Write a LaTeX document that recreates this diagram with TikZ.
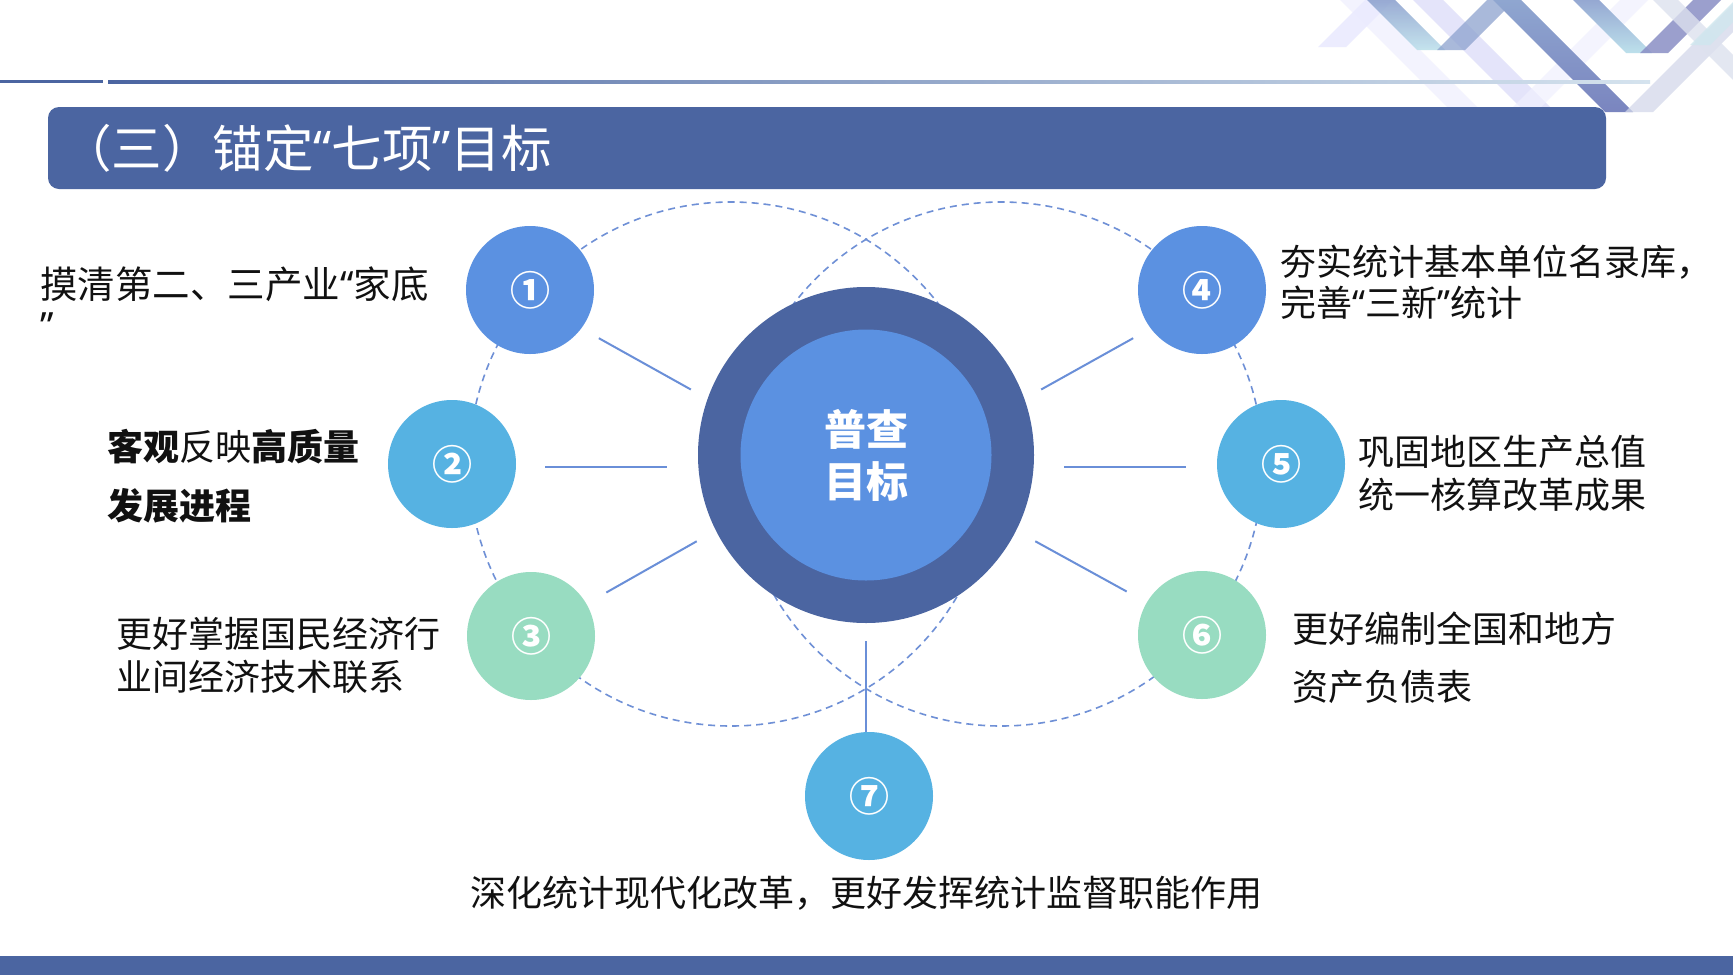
\documentclass[tikz,border=0pt]{standalone}
\usepackage{fontspec}
\setmainfont{Noto Sans CJK SC}
\newfontfamily\qf{Noto Sans}
\usetikzlibrary{calc}
\definecolor{dkblue}{HTML}{4B65A1}
\definecolor{midblue}{HTML}{5B91E1}
\definecolor{skyblue}{HTML}{56B2E2}
\definecolor{mint}{HTML}{98DCC1}
\definecolor{dashc}{HTML}{6F90D6}
\definecolor{connc}{HTML}{6A8FD8}
\definecolor{lineend}{HTML}{D5E3EE}
\definecolor{txt}{HTML}{111111}
\newcommand\bandBack[5]{\path[#5] (#1,#2) -- ({#1+#4},#2) -- ({#1+#4+#3-#2},#3) -- ({#1+#3-#2},#3) -- cycle;}
\newcommand\bandFwd[5]{\path[#5] (#1,#3) -- ({#1+#4},#3) -- ({#1+#4+#3-#2},#2) -- ({#1+#3-#2},#2) -- cycle;}
\newcommand\myLq{{\qf “}}
\newcommand\myRq{{\qf ”}}
\begin{document}
\begin{tikzpicture}[x=1pt,y=-1pt,
  sat/.style={circle, minimum size=128, inner sep=0, text=white, font=\bfseries\fontsize{40}{40}\selectfont},
  conn/.style={connc, line width=2},
  dashring/.style={circle, draw=dashc, line width=1.6, dash pattern=on 7 off 5, minimum size=524, inner sep=0},
  body/.style={anchor=base west, align=left, inner sep=0, text=txt},
]
\useasboundingbox (0,0) rectangle (1733,975);
\fill[white] (0,0) rectangle (1733,975);

% decoration top right
\bandBack{1340}{0}{110}{30}{fill=black!8!blue!6, fill opacity=0.8}
\bandFwd{1318}{0}{47}{28}{fill=black!6!blue!8, fill opacity=0.9}
\bandBack{1413}{0}{107}{30}{fill=black!15!blue!15!white, fill opacity=0.7}
\bandFwd{1510}{0}{110}{28}{fill=black!6!blue!6, fill opacity=0.7}
\bandBack{1367}{0}{50}{28}{top color={rgb,255:red,143;green,163;blue,207}, bottom color={rgb,255:red,191;green,225;blue,236}, opacity=0.9}
\bandFwd{1437}{0}{50}{28}{fill={rgb,255:red,141;green,162;blue,206}, fill opacity=0.75}
\bandBack{1493}{0}{112}{28}{top color={rgb,255:red,143;green,166;blue,208}, bottom color={rgb,255:red,122;green,133;blue,191}}
\bandFwd{1625}{0}{112}{28}{fill={rgb,255:red,211;green,216;blue,234}, fill opacity=0.75}
\bandBack{1573}{0}{53}{26}{top color={rgb,255:red,149;green,168;blue,210}, bottom color={rgb,255:red,189;green,224;blue,235}}
\bandFwd{1640}{0}{53}{28}{fill={rgb,255:red,138;green,143;blue,197}, fill opacity=0.85}
\bandBack{1653}{0}{80}{25}{fill={rgb,255:red,221;green,225;blue,238}, fill opacity=0.8}
\bandFwd{1690}{0}{45}{20}{fill={rgb,255:red,207;green,230;blue,238}, fill opacity=0.8}

% top rule
\fill[dkblue] (0,80) rectangle (103,83);
\shade[left color=dkblue, right color=lineend] (108,80) rectangle (1650,83);

% title bar
\fill[dkblue, rounded corners=11] (48,107) rectangle (1606,189);
\node[anchor=west, inner sep=0, text=white, font=\fontsize{50.5}{50.5}\selectfont] (title) at (61,148) {（三）锚定\myLq 七项\myRq 目标};

% dashed rings
\node[dashring] (ringL) at (731,464) {};
\node[dashring] (ringR) at (1001,464) {};

% centre
\node[circle, fill=dkblue, minimum size=336, inner sep=0] (ctr) at (866,455) {};
\node[circle, fill=midblue, minimum size=251, inner sep=0, align=center, text=white, font=\bfseries\fontsize{42}{52}\selectfont] (ctrin) at (ctr) {普查\\目标};

% satellites
\node[sat, fill=midblue] (c1) at (530,290) {①};
\node[sat, fill=skyblue] (c2) at (452,464) {②};
\node[sat, fill=mint] (c3) at (531,636) {③};
\node[sat, fill=midblue] (c4) at (1202,290) {④};
\node[sat, fill=skyblue] (c5) at (1281,464) {⑤};
\node[sat, fill=mint] (c6) at (1202,635) {⑥};
\node[sat, fill=skyblue] (c7) at (869,796) {⑦};

% connectors
\draw[conn] ($(c1)+(35:84)$) -- ($(ctr)+(200.5:187)$);
\draw[conn] ($(c2)+(93,3)$) -- ($(c2 -| ctr)+(-199,3)$);
\draw[conn] ($(c3)+(-30:87)$) -- ($(ctr)+(153:190)$);
\draw[conn] ($(c4)+(145:84)$) -- ($(ctr)+(-20.5:187)$);
\draw[conn] ($(c5 -| ctr)+(198,3)$) -- ($(c5)+(-95,3)$);
\draw[conn] ($(ctr)+(27:190)$) -- ($(c6)+(210:87)$);
\draw[conn] ($(ctr)+(90:186)$) -- (ctr |- c7.north);

% texts (base = baseline of last line)
\node[body, font=\fontsize{37.5}{41}\selectfont] (t1) at (40,339) {摸清第二、三产业\myLq 家底\\\myRq};
\node[body, font=\fontsize{36}{59}\selectfont] (t2) at (107,519) {{\bfseries 客观}反映{\bfseries 高质量}\\{\bfseries 发展进程}};
\node[body, font=\fontsize{36}{43}\selectfont] (t3) at (116,690) {更好掌握国民经济行\\业间经济技术联系};
\node[body, font=\fontsize{36}{41}\selectfont] (t4) at (1280,316) {夯实统计基本单位名录库，\\完善\myLq 三新\myRq 统计};
\node[body, font=\fontsize{36}{43}\selectfont] (t5) at (1358,508) {巩固地区生产总值\\统一核算改革成果};
\node[body, font=\fontsize{36}{58}\selectfont] (t6) at (1292,700) {更好编制全国和地方\\资产负债表};
\node[anchor=base, inner sep=0, text=txt, font=\fontsize{36}{36}\selectfont] (t7) at (866,906) {深化统计现代化改革，更好发挥统计监督职能作用};

% bottom bar
\fill[dkblue] (0,956) rectangle (1733,975);
\end{tikzpicture}
\end{document}
